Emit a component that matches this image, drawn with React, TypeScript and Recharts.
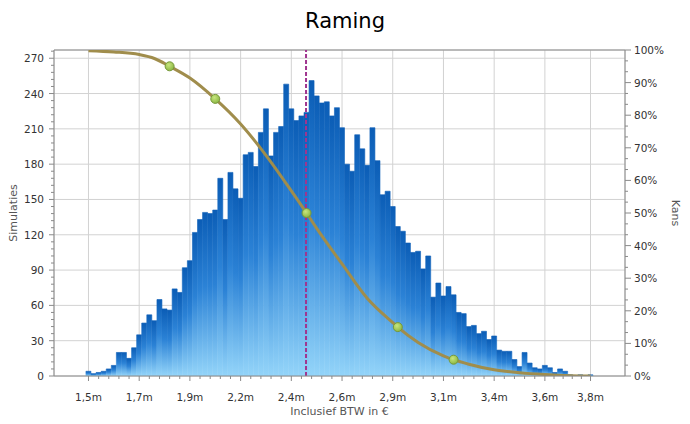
import React from 'react';
import { ComposedChart, Bar, Line, XAxis, YAxis, CartesianGrid, ReferenceLine } from 'recharts';

// Histogram: number of simulations per bin (100 bins)
const counts = [
  4, 2, 3, 4, 6, 9, 20, 20, 15, 24,
  35, 45, 52, 47, 65, 57, 56, 74, 71, 92,
  98, 122, 133, 139, 138, 141, 168, 133, 173, 159,
  151, 188, 190, 178, 207, 227, 187, 207, 212, 248,
  227, 217, 221, 224, 251, 238, 232, 233, 221, 228,
  211, 180, 174, 205, 193, 179, 211, 183, 154, 157,
  144, 127, 123, 113, 105, 106, 91, 102, 67, 79,
  68, 76, 69, 54, 53, 42, 43, 36, 38, 31,
  34, 22, 21, 21, 14, 8, 20, 11, 7, 6,
  9, 7, 3, 6, 4, 1, 0, 1, 0, 1,
];

// Probability curve ("Kans", %) read at selected bins
const kansBins = [0, 5, 10, 13, 16, 20, 25, 30, 35, 40, 43, 45, 50, 55, 60, 61, 65, 70, 72, 75, 80, 85, 90, 95, 99];
const kansValues = [99.8, 99.4, 98.6, 97.4, 95, 91.4, 85, 77.3, 67.7, 56.8, 50, 45.3, 34.4, 23.8, 16.4, 15, 10.3, 6.2, 5, 3.6, 1.9, 1.0, 0.45, 0.1, 0];

// Bins carrying a marker dot (95%, 85%, 50%, 15%, 5%)
const markerBins = [16, 25, 43, 61, 72];

// Dashed vertical line position (median), in bin units
const medianBin = 42.9;

const xMajorTicks = [0, 10, 20, 30, 40, 50, 60, 70, 80, 90, 99];
const xTickLabels = ['1,5m', '1,7m', '1,9m', '2,2m', '2,4m', '2,6m', '2,9m', '3,1m', '3,4m', '3,6m', '3,8m'];
const leftMajorTicks = [0, 30, 60, 90, 120, 150, 180, 210, 240, 270];

const X_DOMAIN: [number, number] = [-6.8, 105.8];
const LEFT_DOMAIN: [number, number] = [0, 277];

const FONT = 'Tahoma, "DejaVu Sans", sans-serif';
const AXIS = '#8a8a8a';
const GRID = '#d2d2d2';

const xAllTicks: number[] = [];
xMajorTicks.forEach((t, i) => {
  xAllTicks.push(t);
  if (i < xMajorTicks.length - 1) {
    const n = xMajorTicks[i + 1];
    for (let k = 1; k < 5; k++) xAllTicks.push(t + ((n - t) * k) / 5);
  }
});
const leftAllTicks: number[] = [];
for (let v = 0; v <= 276; v += 6) leftAllTicks.push(v);
const rightAllTicks: number[] = [];
for (let k = 0; k <= 30; k++) rightAllTicks.push((k * 10) / 3);

const kansMap: Record<number, number> = {};
kansBins.forEach((b, i) => (kansMap[b] = kansValues[i]));

const data = counts.map((c, i) => ({
  bin: i,
  count: c,
  kans: kansMap[i] !== undefined ? kansMap[i] : null,
}));

const XTick = (props: any) => {
  const { x, y, payload } = props;
  const idx = xMajorTicks.indexOf(payload.value);
  const major = idx >= 0;
  return (
    <g>
      <line x1={x} y1={y} x2={x} y2={y + (major ? 5 : 3)} stroke={AXIS} />
      {major && (
        <text x={x} y={y + 25} textAnchor="middle" fill="#333" fontSize={10.5} fontFamily={FONT}>
          {xTickLabels[idx]}
        </text>
      )}
    </g>
  );
};

const LeftTick = (props: any) => {
  const { x, y, payload } = props;
  const major = payload.value % 30 === 0;
  return (
    <g>
      <line x1={x - (major ? 5 : 3)} y1={y} x2={x} y2={y} stroke={AXIS} />
      {major && (
        <text x={x - 10} y={y + 4} textAnchor="end" fill="#333" fontSize={10.5} fontFamily={FONT}>
          {payload.value}
        </text>
      )}
    </g>
  );
};

const RightTick = (props: any) => {
  const { x, y, payload } = props;
  const v = payload.value;
  const major = Math.abs(v / 10 - Math.round(v / 10)) < 1e-6;
  return (
    <g>
      <line x1={x} y1={y} x2={x + (major ? 6 : 3)} y2={y} stroke={AXIS} />
      {major && (
        <text x={x + 9} y={y + 4} textAnchor="start" fill="#333" fontSize={10.5} fontFamily={FONT}>
          {`${Math.round(v)}%`}
        </text>
      )}
    </g>
  );
};

const MarkerDot = (props: any) => {
  const { cx, cy, payload, index } = props;
  if (cx == null || cy == null || !payload || !markerBins.includes(payload.bin)) {
    return <g key={`d${index}`} />;
  }
  return (
    <circle key={`d${index}`} cx={cx} cy={cy} r={4.5} fill="url(#dotGrad)" stroke="#76983a" strokeWidth={1} />
  );
};

export default function App() {
  return (
    <div style={{ position: 'absolute', left: 0, top: 0, width: 690, height: 424, background: '#fff' }}>
      <div
        style={{
          position: 'absolute',
          top: 9,
          left: 0,
          width: 690,
          textAlign: 'center',
          fontFamily: FONT,
          fontSize: 21,
          lineHeight: '24px',
          color: '#000',
        }}
      >
        Raming
      </div>
      <div style={{ position: 'absolute', left: 0, top: 0 }}>
        <ComposedChart
          width={690}
          height={424}
          data={data}
          margin={{ top: 50, right: 10, bottom: 0, left: 10 }}
          barCategoryGap={0}
          barGap={0}
        >
          <defs>
            <linearGradient id="barGrad" x1="0" y1="0" x2="0" y2="1">
              <stop offset="0%" stopColor="#0b5db6" />
              <stop offset="45%" stopColor="#2b82d6" />
              <stop offset="100%" stopColor="#93d4f9" />
            </linearGradient>
            <radialGradient id="dotGrad" cx="40%" cy="35%" r="65%">
              <stop offset="0%" stopColor="#c8e67e" />
              <stop offset="100%" stopColor="#8cb844" />
            </radialGradient>
          </defs>
          <XAxis
            dataKey="bin"
            type="number"
            domain={X_DOMAIN}
            allowDataOverflow
            ticks={xAllTicks}
            interval={0}
            tick={XTick}
            tickLine={false}
            tickSize={0}
            tickMargin={0}
            axisLine={{ stroke: AXIS }}
            height={48}
            label={{
              value: 'Inclusief BTW in €',
              position: 'insideBottom',
              offset: 9,
              fill: '#555',
              fontSize: 11,
              fontFamily: FONT,
            }}
          />
          <YAxis
            yAxisId="left"
            orientation="left"
            type="number"
            domain={LEFT_DOMAIN}
            allowDataOverflow
            ticks={leftAllTicks}
            interval={0}
            tick={LeftTick}
            tickLine={false}
            tickSize={0}
            tickMargin={0}
            width={44}
            axisLine={{ stroke: AXIS }}
            label={{
              value: 'Simulaties',
              angle: -90,
              position: 'insideLeft',
              offset: 3,
              fill: '#555',
              fontSize: 11,
              fontFamily: FONT,
              style: { textAnchor: 'middle' },
            }}
          />
          <YAxis
            yAxisId="right"
            orientation="right"
            type="number"
            domain={[0, 100]}
            allowDataOverflow
            ticks={rightAllTicks}
            interval={0}
            tick={RightTick}
            tickLine={false}
            tickSize={0}
            tickMargin={0}
            width={55}
            axisLine={{ stroke: AXIS }}
            label={{
              value: 'Kans',
              angle: 90,
              position: 'insideRight',
              offset: 4,
              fill: '#555',
              fontSize: 11,
              fontFamily: FONT,
              style: { textAnchor: 'middle' },
            }}
          />
          <XAxis
            xAxisId="grid"
            dataKey="bin"
            type="number"
            domain={X_DOMAIN}
            allowDataOverflow
            ticks={xMajorTicks}
            interval={0}
            height={0}
            hide
          />
          <YAxis
            yAxisId="grid"
            type="number"
            domain={LEFT_DOMAIN}
            allowDataOverflow
            ticks={leftMajorTicks}
            interval={0}
            width={0}
            hide
          />
          <CartesianGrid xAxisId="grid" yAxisId="grid" stroke={GRID} />
          <ReferenceLine yAxisId="right" y={100} stroke={AXIS} strokeWidth={1} />
          <Bar
            yAxisId="left"
            dataKey="count"
            fill="url(#barGrad)"
            stroke="url(#barGrad)"
            strokeWidth={0.6}
            isAnimationActive={false}
          />
          <ReferenceLine
            yAxisId="left"
            x={medianBin}
            stroke="#a0358f"
            strokeWidth={2}
            strokeDasharray="4 2"
          />
          <Line
            yAxisId="right"
            type="monotone"
            dataKey="kans"
            stroke="#a08d4c"
            strokeWidth={3}
            connectNulls
            dot={MarkerDot}
            activeDot={false}
            isAnimationActive={false}
          />
        </ComposedChart>
      </div>
    </div>
  );
}
